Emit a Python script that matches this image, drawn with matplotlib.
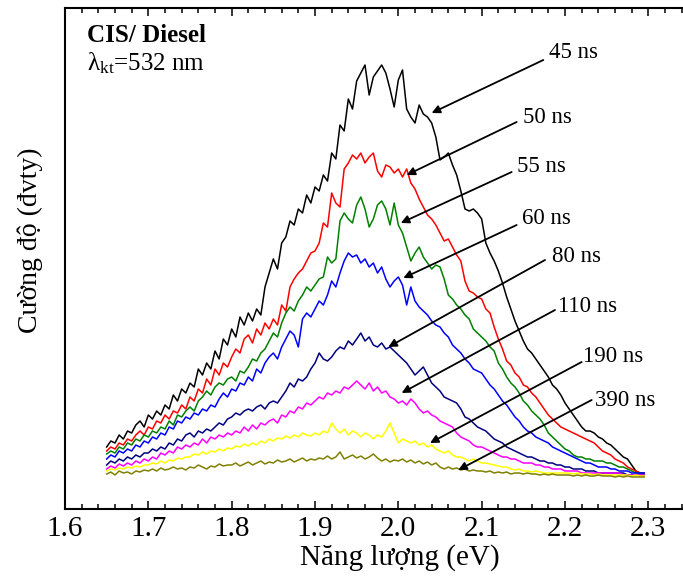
import matplotlib
matplotlib.use("Agg")
import matplotlib.pyplot as plt
from matplotlib.ticker import MultipleLocator, FormatStrFormatter

plt.rcParams["font.family"] = ["Liberation Serif", "DejaVu Serif"]
plt.rcParams["mathtext.fontset"] = "custom"
plt.rcParams["mathtext.rm"] = "Liberation Serif"
plt.rcParams["mathtext.it"] = "Liberation Serif:italic"

# energy grid of the spectra (eV)
energy = [
    1.650, 1.655, 1.660, 1.665, 1.670, 1.675, 1.680, 1.685, 1.690, 1.695,
    1.700, 1.705, 1.710, 1.715, 1.720, 1.725, 1.730, 1.735, 1.740, 1.745,
    1.750, 1.755, 1.760, 1.765, 1.770, 1.775, 1.780, 1.785, 1.790, 1.795,
    1.800, 1.805, 1.810, 1.815, 1.820, 1.825, 1.830, 1.835, 1.840, 1.845,
    1.850, 1.855, 1.860, 1.865, 1.870, 1.875, 1.880, 1.885, 1.890, 1.895,
    1.900, 1.905, 1.910, 1.915, 1.920, 1.925, 1.930, 1.935, 1.940, 1.945,
    1.950, 1.955, 1.960, 1.965, 1.970, 1.975, 1.980, 1.985, 1.990, 1.995,
    2.000, 2.005, 2.010, 2.015, 2.020, 2.025, 2.030, 2.035, 2.040, 2.045,
    2.050, 2.055, 2.060, 2.065, 2.070, 2.075, 2.080, 2.085, 2.090, 2.095,
    2.100, 2.105, 2.110, 2.115, 2.120, 2.125, 2.130, 2.135, 2.140, 2.145,
    2.150, 2.155, 2.160, 2.165, 2.170, 2.175, 2.180, 2.185, 2.190, 2.195,
    2.200, 2.205, 2.210, 2.215, 2.220, 2.225, 2.230, 2.235, 2.240, 2.245,
    2.250, 2.255, 2.260, 2.265, 2.270, 2.275, 2.280, 2.285, 2.290, 2.295,
]

# intensity (a.u.) for each delay
i_45 = [
    62, 68, 66, 74, 70, 78, 76, 84, 88, 82,
    94, 90, 98, 94, 104, 100, 114, 108, 120, 116,
    126, 122, 140, 134, 146, 140, 158, 150, 170, 164,
    180, 172, 192, 184, 196, 188, 200, 194, 222, 236,
    250, 240, 266, 272, 288, 284, 300, 296, 314, 306,
    322, 318, 334, 328, 356, 350, 384, 378, 410, 400,
    428, 436, 444, 414, 432, 438, 444, 436, 420, 402,
    429, 439, 400, 392, 386, 404, 395, 392, 386, 372,
    349, 352, 356, 344, 334, 318, 300, 298, 300, 296,
    290, 266, 256, 248, 238, 226, 212, 200, 188, 178,
    168, 160, 156, 150, 144, 138, 132, 124, 120, 114,
    106, 100, 94, 88, 82, 78, 78, 76, 72, 70,
    66, 64, 60, 56, 52, 50, 44, 38, 36, 34,
]
i_50 = [
    58, 62, 60, 66, 64, 70, 68, 74, 78, 74,
    82, 80, 88, 86, 94, 90, 98, 96, 104, 100,
    112, 108, 120, 116, 130, 124, 140, 134, 146, 142,
    152, 160, 156, 170, 174, 166, 180, 174, 186, 180,
    190, 184, 204, 198, 222, 230, 236, 240, 248, 256,
    258, 266, 286, 282, 316, 306, 302, 340, 346, 354,
    350, 356, 346, 352, 356, 338, 332, 344, 342, 336,
    340, 332, 340, 326, 320, 310, 302, 294, 290, 284,
    276, 268, 270, 262, 254, 248, 228, 218, 216, 212,
    210, 200, 196, 182, 170, 160, 148, 144, 136, 132,
    124, 122, 116, 112, 106, 100, 94, 90, 86, 82,
    80, 78, 76, 74, 72, 70, 68, 66, 62, 58,
    56, 54, 50, 48, 46, 42, 40, 38, 36, 36,
]
i_55 = [
    55, 58, 56, 62, 60, 66, 64, 70, 68, 74,
    72, 78, 76, 82, 80, 88, 84, 94, 92, 98,
    102, 98, 108, 112, 118, 114, 122, 126, 124, 130,
    132, 128, 138, 136, 142, 150, 148, 156, 160, 168,
    176, 172, 186, 196, 202, 198, 208, 214, 222, 218,
    224, 230, 232, 252, 246, 250, 288, 296, 290, 286,
    304, 312, 300, 282, 290, 304, 308, 300, 284, 306,
    284, 276, 262, 248, 256, 262, 252, 246, 240, 244,
    242, 230, 214, 210, 204, 200, 194, 190, 180, 176,
    172, 168, 162, 158, 146, 140, 132, 126, 122, 116,
    108, 104, 98, 94, 90, 84, 76, 72, 68, 64,
    60, 58, 54, 52, 52, 50, 50, 48, 48, 48,
    46, 46, 44, 42, 42, 40, 38, 36, 36, 36,
]
i_60 = [
    50, 54, 52, 58, 56, 60, 58, 64, 62, 68,
    66, 72, 70, 76, 74, 82, 80, 88, 86, 92,
    90, 96, 94, 100, 98, 104, 102, 110, 116, 112,
    120, 118, 126, 124, 132, 128, 140, 136, 146, 152,
    156, 150, 162, 170, 178, 174, 162, 190, 196, 192,
    200, 208, 204, 214, 228, 222, 236, 248, 256, 252,
    254, 246, 250, 242, 246, 236, 242, 230, 222, 228,
    232, 224, 204, 222, 208, 202, 198, 194, 188, 184,
    182, 176, 172, 164, 160, 156, 150, 146, 140, 138,
    136, 130, 124, 120, 114, 108, 104, 98, 92, 88,
    82, 78, 76, 72, 70, 68, 66, 62, 60, 58,
    56, 54, 52, 50, 48, 46, 46, 44, 42, 42,
    42, 40, 40, 38, 38, 38, 36, 36, 36, 36,
]
i_80 = [
    44, 48, 46, 50, 48, 52, 50, 54, 52, 56,
    56, 60, 58, 62, 60, 66, 64, 70, 68, 74,
    76, 72, 78, 76, 80, 78, 82, 86, 84, 90,
    92, 96, 94, 98, 100, 98, 102, 104, 100, 106,
    108, 106, 112, 118, 126, 122, 130, 128, 132, 140,
    146, 156, 150, 148, 152, 158, 162, 160, 168, 164,
    170, 176, 168, 172, 164, 162, 166, 160, 162, 158,
    154, 150, 146, 140, 134, 138, 142, 134, 126, 122,
    118, 112, 110, 108, 106, 100, 92, 90, 86, 82,
    80, 78, 74, 70, 68, 66, 62, 60, 58, 56,
    54, 52, 52, 50, 48, 48, 46, 46, 44, 44,
    42, 42, 40, 40, 40, 38, 38, 38, 36, 36,
    36, 36, 36, 36, 36, 34, 34, 34, 34, 34,
]
i_110 = [
    40, 43, 41, 45, 43, 46, 44, 48, 46, 50,
    48, 52, 50, 56, 54, 58, 56, 62, 60, 64,
    62, 66, 64, 70, 66, 72, 70, 74, 72, 76,
    74, 78, 76, 82, 78, 84, 80, 86, 84, 88,
    90, 86, 94, 92, 98, 96, 102, 100, 106, 104,
    108, 112, 110, 116, 114, 118, 116, 122, 120, 124,
    128, 124, 120, 126, 118, 122, 116, 118, 112, 110,
    106, 108, 104, 110, 106, 100, 96, 98, 94, 92,
    88, 86, 84, 82, 76, 72, 70, 68, 64, 62,
    62, 60, 58, 56, 54, 52, 52, 50, 50, 48,
    46, 46, 46, 44, 44, 42, 42, 40, 40, 40,
    38, 38, 38, 38, 36, 36, 36, 36, 36, 36,
    36, 36, 36, 36, 34, 34, 34, 34, 34, 34,
]
i_190 = [
    38, 40, 39, 41, 40, 42, 41, 43, 42, 44,
    44, 46, 45, 48, 46, 49, 48, 51, 50, 52,
    52, 55, 54, 57, 55, 58, 57, 60, 58, 61,
    60, 63, 62, 65, 63, 66, 64, 68, 66, 70,
    68, 71, 70, 73, 71, 74, 72, 76, 74, 73,
    76, 74, 78, 76, 86, 80, 76, 80, 74, 78,
    76, 72, 76, 74, 70, 74, 72, 78, 86, 76,
    66, 70, 68, 66, 68, 64, 66, 62, 64, 60,
    58, 56, 58, 54, 52, 52, 50, 48, 50, 48,
    46, 46, 45, 44, 43, 42, 42, 40, 39, 40,
    38, 38, 37, 38, 37, 36, 36, 36, 36, 36,
    36, 36, 35, 36, 35, 35, 35, 34, 35, 34,
    34, 34, 34, 34, 34, 34, 33, 34, 33, 33,
]
i_390 = [
    35, 37, 34, 38, 36, 37, 35, 38, 37, 39,
    38, 40, 38, 41, 39, 40, 42, 40, 41, 39,
    42, 41, 44, 42, 40, 43, 42, 45, 43, 44,
    44, 46, 43, 45, 47, 44, 46, 48, 45, 47,
    46, 49, 47, 48, 50, 47, 49, 51, 48, 50,
    49, 51, 50, 53, 50, 52, 57, 50, 52, 54,
    51, 53, 50, 52, 55, 51, 48, 50, 47, 49,
    48, 50, 47, 49, 46, 48, 45, 47, 44, 46,
    42, 40, 42, 40, 41, 39, 40, 38, 39, 38,
    38, 37, 38, 36, 37, 36, 37, 35, 36, 36,
    35, 36, 35, 35, 34, 35, 34, 35, 34, 34,
    34, 34, 33, 34, 33, 34, 33, 33, 34, 33,
    33, 33, 32, 33, 32, 33, 32, 32, 32, 32,
]

delays = ["45 ns", "50 ns", "55 ns", "60 ns", "80 ns", "110 ns", "190 ns", "390 ns"]
series = [i_45, i_50, i_55, i_60, i_80, i_110, i_190, i_390]
colors = ["#000000", "#ff0000", "#008000", "#0000ff", "#000080", "#ff00ff", "#ffff00", "#808000"]

# label text position and arrow tip (eV, intensity)
label_xy = [(2.181, 457), (2.150, 392), (2.142, 343), (2.148, 291),
            (2.184, 252), (2.192, 202), (2.222, 152), (2.236, 108)]
tail_xy = [(2.174, 449), (2.142, 387), (2.136, 337), (2.142, 284),
           (2.176, 249), (2.188, 199), (2.220, 147), (2.232, 109)]
tip_xy = [(2.040, 396), (2.010, 334), (2.003, 286), (2.006, 231),
          (1.988, 162), (2.004, 116), (2.038, 66), (2.072, 39)]

fig = plt.figure(figsize=(6.83, 5.76), dpi=100)
ax = fig.add_axes([65 / 683, 67 / 576, 625 / 683, 501 / 576])

for y, c in zip(series, colors):
    ax.plot(energy, y, color=c, lw=1.1)

for lab, pos, tail, tip in zip(delays, label_xy, tail_xy, tip_xy):
    ax.text(pos[0], pos[1], lab, fontsize=16.5, ha="left", va="center")
    ax.annotate("", xy=tip, xytext=tail,
                arrowprops=dict(arrowstyle="-|>", color="black", lw=1.3,
                                mutation_scale=12, shrinkA=0, shrinkB=0))

ax.text(1.626, 467, "CIS/ Diesel", fontsize=18, fontweight="bold", va="baseline")
ax.text(1.626, 439, r"λ$_{\mathrm{kt}}$=532 nm", fontsize=18, va="baseline")

ax.set_xlim(1.6, 2.35)
ax.set_ylim(0, 501)
ax.set_yticks([])
ax.xaxis.set_major_locator(MultipleLocator(0.1))
ax.xaxis.set_minor_locator(MultipleLocator(0.02))
ax.xaxis.set_major_formatter(FormatStrFormatter("%.1f"))
ax.tick_params(axis="x", which="both", direction="in", top=True, width=1.1, labelsize=21, pad=5)
ax.tick_params(axis="x", which="major", length=6)
ax.tick_params(axis="x", which="minor", length=3.5)
for s in ax.spines.values():
    s.set_linewidth(1.5)

ax.set_xlabel("Năng lượng (eV)", fontsize=21)
ax.set_ylabel("Cường độ (đvty)", fontsize=20)
ax.xaxis.set_label_coords(0.536, -0.070)
ax.yaxis.set_label_coords(-0.056, 0.537)
ax.yaxis.label.set_va("center")

fig.savefig("out.png", dpi=100)
